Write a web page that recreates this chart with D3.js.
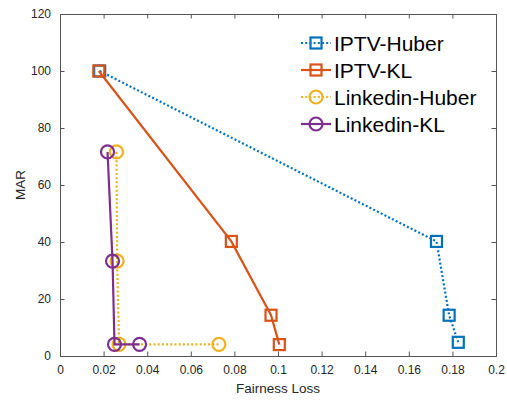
<!DOCTYPE html>
<html>
<head>
<meta charset="utf-8">
<script src="https://cdn.jsdelivr.net/npm/d3@7"></script>
<style>
  body { margin: 0; background: #fff; }
  text { font-family: "Liberation Sans", Arial, Helvetica, sans-serif; }
</style>
</head>
<body>
<svg id="chart" width="507" height="401"></svg>
<script>
// values
const seriesNames = ["IPTV-Huber", "IPTV-KL", "Linkedin-Huber", "Linkedin-KL"]
const iptvHuber = [[0.0182, 100], [0.1727, 40.2], [0.1785, 14.3], [0.1827, 4.8]]
const iptvKL = [[0.0178, 100], [0.0786, 40.2], [0.0968, 14.3], [0.1006, 4.0]]
const linkedinHuber = [[0.0259, 71.6], [0.0262, 33.3], [0.0271, 4.1], [0.0729, 4.1]]
const linkedinKL = [[0.0218, 71.6], [0.0241, 33.3], [0.0250, 4.1], [0.0365, 4.1]]
const xTicks = [0, 0.02, 0.04, 0.06, 0.08, 0.1, 0.12, 0.14, 0.16, 0.18, 0.2]
const yTicks = [0, 20, 40, 60, 80, 100, 120]

const colors = ["#0072BD", "#D95319", "#EDB120", "#7E2F8E"]
const markers = ["square", "square", "circle", "circle"]
const dashes = ["2,2.2", null, "2,2.2", null]

const series = [iptvHuber, iptvKL, linkedinHuber, linkedinKL].map((values, i) => ({
    id: seriesNames[i], values, color: colors[i], marker: markers[i], dash: dashes[i]
}))

let svg = d3.select("#chart"),
    margin = {top: 14, right: 11, bottom: 45, left: 60},
    width = svg.attr("width") - margin.left - margin.right,
    height = svg.attr("height") - margin.top - margin.bottom,
    g = svg.append("g").attr("transform", "translate(" + margin.left + "," + margin.top + ")")

let x = d3.scaleLinear().domain([0, 0.2]).range([0, width]),
    y = d3.scaleLinear().domain([0, 120]).range([height, 0])

const fmt = d => String(+d.toFixed(2))
const axisColor = "#555"

g.append("g")
    .attr("transform", "translate(0," + height + ")")
    .call(d3.axisBottom(x).tickValues(xTicks).tickFormat(fmt).tickSize(-4.5).tickPadding(9))
g.append("g")
    .call(d3.axisTop(x).tickValues(xTicks).tickFormat("").tickSize(-4.5))
g.append("g")
    .call(d3.axisLeft(y).tickValues(yTicks).tickSize(-4.5).tickPadding(9))
g.append("g")
    .attr("transform", "translate(" + width + ",0)")
    .call(d3.axisRight(y).tickValues(yTicks).tickFormat("").tickSize(-4.5))

g.selectAll(".domain, .tick line").attr("stroke", axisColor)
g.selectAll(".tick text")
    .attr("fill", "#262626")
    .style("font-size", "12px")

svg.append("text")
    .attr("x", margin.left + width / 2)
    .attr("y", 393)
    .attr("text-anchor", "middle")
    .attr("fill", "#262626")
    .style("font-size", "13.5px")
    .text("Fairness Loss")

svg.append("text")
    .attr("transform", "translate(25," + (margin.top + height / 2) + ") rotate(-90)")
    .attr("text-anchor", "middle")
    .attr("fill", "#262626")
    .style("font-size", "13.5px")
    .text("MAR")

const line = d3.line().x(d => x(d[0])).y(d => y(d[1]))

const drawMarker = (sel, marker, color, cx, cy) => {
    if (marker === "square") {
        sel.append("rect")
            .attr("x", cx - 5.5).attr("y", cy - 5.5)
            .attr("width", 11).attr("height", 11)
            .attr("fill", "none").attr("stroke", color).attr("stroke-width", 2.2)
    } else {
        sel.append("circle")
            .attr("cx", cx).attr("cy", cy).attr("r", 6.5)
            .attr("fill", "none").attr("stroke", color).attr("stroke-width", 2.2)
    }
}

let s = g.selectAll(".series")
    .data(series)
    .enter().append("g")
    .attr("class", "series")

s.append("path")
    .attr("d", d => line(d.values))
    .attr("fill", "none")
    .attr("stroke", d => d.color)
    .attr("stroke-width", 2.2)
    .attr("stroke-dasharray", d => d.dash)

s.each(function(d) {
    let grp = d3.select(this)
    d.values.forEach(v => drawMarker(grp, d.marker, d.color, x(v[0]), y(v[1])))
})

// legend, no box
let legend = svg.append("g").attr("transform", "translate(301,43)")
series.forEach((d, i) => {
    let row = legend.append("g").attr("transform", "translate(0," + i * 27 + ")")
    row.append("line")
        .attr("x1", 0).attr("x2", 30).attr("y1", 0).attr("y2", 0)
        .attr("stroke", d.color).attr("stroke-width", 2.2)
        .attr("stroke-dasharray", d.dash)
    drawMarker(row, d.marker, d.color, 15, 0)
    row.append("text")
        .attr("x", 33)
        .attr("y", 0)
        .attr("dy", "0.36em")
        .attr("fill", "#000")
        .style("font-size", "21px")
        .text(d.id)
})
</script>
</body>
</html>
